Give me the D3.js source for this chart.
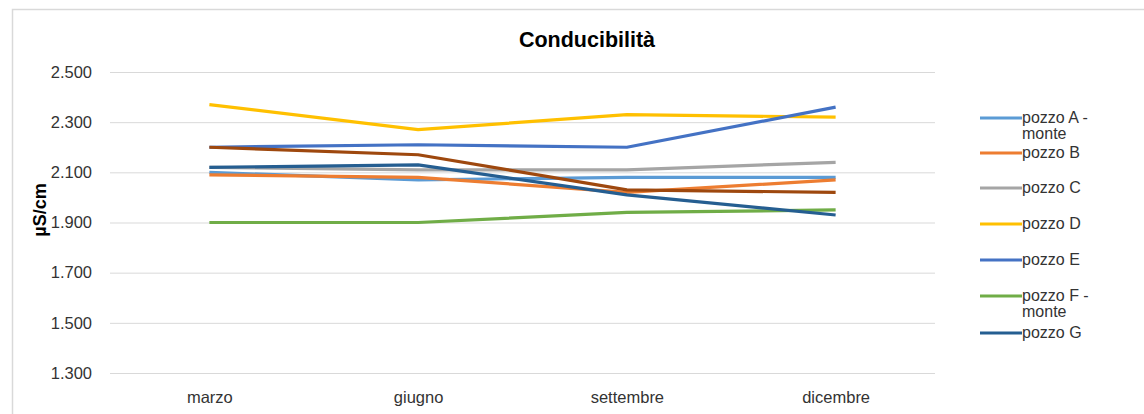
<!DOCTYPE html>
<html>
<head>
<meta charset="utf-8">
<script src="https://cdn.jsdelivr.net/npm/d3@7"></script>
<style>
  html, body { margin: 0; padding: 0; background: #fff; }
  svg { display: block; font-family: "Liberation Sans", Arial, sans-serif; }
</style>
</head>
<body>
<svg id="chart" width="1144" height="414"></svg>
<script>
// Monthly conductivity readings (µS/cm) per well
const months = ["marzo", "giugno", "settembre", "dicembre"];
const yTicks = [1300, 1500, 1700, 1900, 2100, 2300, 2500];

const pozzoA = [2100, 2070, 2080, 2080];
const pozzoB = [2090, 2080, 2020, 2070];
const pozzoC = [2120, 2110, 2110, 2140];
const pozzoD = [2370, 2270, 2330, 2320];
const pozzoE = [2200, 2210, 2200, 2360];
const pozzoF = [1900, 1900, 1940, 1950];
const pozzoG = [2120, 2130, 2010, 1930];
const pozzoH = [2200, 2170, 2030, 2020];

const seriesNames = ["pozzo A - monte", "pozzo B", "pozzo C", "pozzo D", "pozzo E", "pozzo F - monte", "pozzo G", "pozzo H"];
const seriesColors = ["#5B9BD5", "#ED7D31", "#A5A5A5", "#FFC000", "#4472C4", "#70AD47", "#255E91", "#9E480E"];
const seriesValues = [pozzoA, pozzoB, pozzoC, pozzoD, pozzoE, pozzoF, pozzoG, pozzoH];
// entries shown in the legend box
const legendCount = 7;

const series = seriesNames.map((name, i) => ({ name, color: seriesColors[i], values: seriesValues[i] }));

const svg = d3.select("#chart");
const W = 1144, H = 414;
const textColor = "#333333";

// chart frame
svg.append("path")
  .attr("d", `M12.5,${H} V9.5 H${W}`)
  .attr("fill", "none").attr("stroke", "#d9d9d9").attr("stroke-width", 1.5);

const plot = { left: 105, right: 940, top: 72, bottom: 373 };

const x = d3.scalePoint().domain(months).range([plot.left, plot.right]).padding(0.5);
const y = d3.scaleLinear().domain([1300, 2500]).range([plot.bottom, plot.top]);

// gridlines + y labels
const yAxis = d3.axisLeft(y)
  .tickValues(yTicks)
  .tickSize(-(plot.right - plot.left - 10))
  .tickPadding(18)
  .tickFormat(d => d3.format(",")(d).replace(",", "."));

const gy = svg.append("g").attr("transform", `translate(${plot.left + 5},0)`).call(yAxis);
gy.select(".domain").remove();
gy.selectAll(".tick line").attr("stroke", "#d9d9d9").attr("stroke-width", 1);
gy.selectAll(".tick text").attr("fill", textColor).attr("font-size", 16.5);

// x labels
const xAxis = d3.axisBottom(x).tickSize(0).tickPadding(14);
const gx = svg.append("g").attr("transform", `translate(0,${plot.bottom + 4})`).call(xAxis);
gx.select(".domain").remove();
gx.selectAll(".tick text").attr("fill", textColor).attr("font-size", 16.5);

// title
svg.append("text")
  .attr("x", 587).attr("y", 47)
  .attr("text-anchor", "middle")
  .attr("font-size", 21.5).attr("font-weight", "bold").attr("fill", "#000")
  .text("Conducibilità");

// y axis title
svg.append("text")
  .attr("transform", "translate(46,210) rotate(-90)")
  .attr("text-anchor", "middle")
  .attr("font-size", 18).attr("font-weight", "bold").attr("fill", "#000")
  .text("µS/cm");

// series lines
const line = d3.line().x((d, i) => x(months[i])).y(d => y(d));
svg.append("g").selectAll("path")
  .data(series)
  .join("path")
  .attr("d", d => line(d.values))
  .attr("fill", "none")
  .attr("stroke", d => d.color)
  .attr("stroke-width", 3.2)
  .attr("stroke-linejoin", "round");

// legend
const legendY = [118, 153, 188, 224, 260, 296, 333];
const leg = svg.append("g");
series.slice(0, legendCount).forEach((s, i) => {
  const g = leg.append("g").attr("transform", `translate(980,${legendY[i]})`);
  g.append("line").attr("x1", 0).attr("x2", 42).attr("y1", 0).attr("y2", 0)
    .attr("stroke", s.color).attr("stroke-width", 3.2);
  const parts = s.name.includes(" - ") ? [s.name.replace(" - monte", " -"), "monte"] : [s.name];
  parts.forEach((p, j) => {
    g.append("text").attr("x", 42).attr("y", 5 + j * 16)
      .attr("font-size", 16).attr("fill", textColor).text(p);
  });
});
</script>
</body>
</html>
